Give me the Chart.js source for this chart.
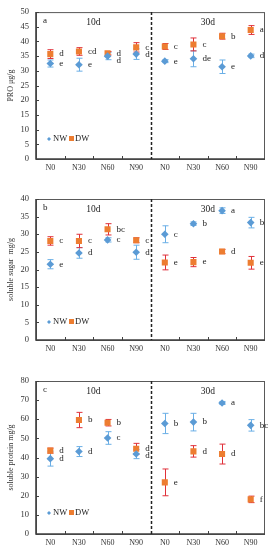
<!DOCTYPE html>
<html>
<head>
<meta charset="utf-8">
<script src="https://cdn.jsdelivr.net/npm/chart.js@4.4.1/dist/chart.umd.min.js"></script>
<style>
html,body{margin:0;padding:0;background:#fff;}
#wrap{position:relative;width:271px;height:550px;}
canvas{position:absolute;left:0;}
</style>
</head>
<body>
<div id="wrap">
<canvas id="ca" width="271" height="180" style="top:0px"></canvas>
<canvas id="cb" width="271" height="180" style="top:180px"></canvas>
<canvas id="cc" width="271" height="190" style="top:360px"></canvas>
</div>
<script>
// ---------- data ----------
const categories = ['N0','N30','N60','N90','N0','N30','N60','N90'];
const periods = ['10d','30d'];
const seriesNames = ['NW','DW'];

// Panel a: PRO (µg/g)
const proNW      = [32.5, 32.1, 35.0, 35.7, 33.3, 34.1, 31.4, 35.1];
const proNWErr   = [1.2, 2.2, 1.2, 1.8, 0.5, 2.7, 2.3, 0.6];
const proDW      = [35.7, 36.6, 36.0, 38.0, 38.3, 39.0, 41.8, 43.9];
const proDWErr   = [1.5, 1.3, 0.6, 1.6, 1.0, 2.2, 1.0, 1.5];
const proNWSig   = ['e','e','d','d','e','de','e','d'];
const proDWSig   = ['d','cd','d','c','c','c','b','a'];

// Panel b: soluble sugar (mg/g)
const sugarNW    = [21.5, 24.7, 28.4, 24.9, 30.0, 33.0, 36.7, 33.3];
const sugarNWErr = [1.3, 1.5, 0.6, 2.0, 2.4, 0.5, 0.8, 1.5];
const sugarDW    = [28.1, 28.1, 31.4, 28.3, 22.0, 22.1, 25.1, 21.9];
const sugarDWErr = [1.2, 1.9, 1.6, 0.7, 2.1, 1.3, 0.6, 1.8];
const sugarNWSig = ['e','d','c','d','c','b','a','b'];
const sugarDWSig = ['c','c','bc','c','e','e','d','e'];

// Panel c: soluble protein (mg/g)
const protNW     = [39.4, 43.1, 50.2, 41.8, 57.8, 58.5, 68.5, 56.8];
const protNWErr  = [3.9, 2.6, 3.3, 2.4, 5.3, 4.6, 0.8, 3.0];
const protDW     = [43.6, 59.6, 58.2, 44.6, 27.0, 43.2, 41.8, 18.1];
const protDWErr  = [1.3, 4.0, 1.7, 2.8, 7.0, 3.0, 5.2, 1.7];
const protNWSig  = ['d','d','c','d','b','b','a','bc'];
const protDWSig  = ['d','b','b','d','e','d','d','f'];

// y axis ranges / ticks
const proTicks   = {max: 50, step: 5};
const sugarTicks = {max: 40, step: 5};
const protTicks  = {max: 80, step: 10};

// ---------- styling ----------
const SERIF = "'Liberation Serif','Times New Roman',serif";
const BLUE = '#5B9BD5', BLUE_ERR = '#6AAFE6';
const ORANGE = '#ED7D31', RED_ERR = '#E0303A';
const AXIS = '#404040';

const decor = {
  id: 'decor',
  beforeDatasetsDraw(chart, args, o) {
    const ctx = chart.ctx, x = chart.scales.x, y = chart.scales.y;
    ctx.save();
    ctx.lineWidth = 1;
    chart.data.datasets.forEach(ds => {
      ctx.strokeStyle = ds.errColor;
      ds.data.forEach((v, i) => {
        const e = ds.err[i];
        const px = Math.round(x.getPixelForValue(i)) + 0.5;
        const y1 = y.getPixelForValue(v + e), y2 = y.getPixelForValue(v - e);
        ctx.beginPath();
        ctx.moveTo(px, y1); ctx.lineTo(px, y2);
        ctx.moveTo(px - 3, y1); ctx.lineTo(px + 3, y1);
        ctx.moveTo(px - 3, y2); ctx.lineTo(px + 3, y2);
        ctx.stroke();
      });
    });
    ctx.restore();
  },
  afterDraw(chart, args, o) {
    const ctx = chart.ctx, x = chart.scales.x, y = chart.scales.y;
    const a = chart.chartArea;
    ctx.save();
    // frame
    ctx.strokeStyle = '#595959';
    ctx.lineWidth = 1;
    ctx.strokeRect(a.left + 0.5, a.top + 0.5, a.right - a.left - 1, a.bottom - a.top);
    ctx.strokeStyle = AXIS;
    ctx.lineWidth = 1.6;
    ctx.beginPath();
    ctx.moveTo(a.left, a.top); ctx.lineTo(a.left, a.bottom); ctx.lineTo(a.right, a.bottom);
    ctx.stroke();
    // inward ticks
    ctx.lineWidth = 1;
    ctx.beginPath();
    y.ticks.forEach(t => {
      const py = Math.round(y.getPixelForValue(t.value)) + 0.5;
      ctx.moveTo(a.left, py); ctx.lineTo(a.left + 3, py);
    });
    for (let i = 0; i < categories.length - 1; i++) {
      if (i === 3) continue;
      const px = Math.round((x.getPixelForValue(i) + x.getPixelForValue(i + 1)) / 2) + 0.5;
      ctx.moveTo(px, a.bottom); ctx.lineTo(px, a.bottom - 3);
    }
    ctx.stroke();
    // divider
    const dx = Math.round((x.getPixelForValue(3) + x.getPixelForValue(4)) / 2) + 0.5;
    ctx.strokeStyle = '#222';
    ctx.lineWidth = 1.5;
    ctx.setLineDash([3, 2]);
    ctx.beginPath(); ctx.moveTo(dx, a.top); ctx.lineTo(dx, a.bottom); ctx.stroke();
    ctx.setLineDash([]);
    // texts
    ctx.fillStyle = '#222';
    ctx.font = '9px ' + SERIF;
    ctx.textBaseline = 'middle';
    ctx.textAlign = 'left';
    ctx.fillText(o.panel, a.left + 7, a.top + 9);
    ctx.textAlign = 'center';
    ctx.font = '9.5px ' + SERIF;
    ctx.fillText(periods[0], (x.getPixelForValue(1) + x.getPixelForValue(2)) / 2, a.top + 10);
    ctx.fillText(periods[1], (x.getPixelForValue(5) + x.getPixelForValue(6)) / 2, a.top + 10);
    // significance letters
    ctx.font = '9px ' + SERIF;
    ctx.textAlign = 'left';
    const dsN = chart.data.datasets[0], dsD = chart.data.datasets[1];
    for (let i = 0; i < categories.length; i++) {
      const px = x.getPixelForValue(i) + 9;
      let yn = y.getPixelForValue(dsN.data[i]);
      let yd = y.getPixelForValue(dsD.data[i]);
      if (Math.abs(yn - yd) < 7) {
        if (yd <= yn) yn = yd + 7; else yd = yn + 7;
      }
      ctx.fillText(dsN.sig[i], px, yn);
      ctx.fillText(dsD.sig[i], px, yd);
    }
    // legend
    const ly = a.bottom - o.legendOffset;
    ctx.fillStyle = BLUE;
    ctx.beginPath();
    ctx.moveTo(a.left + 13, ly - 2); ctx.lineTo(a.left + 15, ly); ctx.lineTo(a.left + 13, ly + 2); ctx.lineTo(a.left + 11, ly);
    ctx.closePath(); ctx.fill();
    ctx.fillStyle = ORANGE;
    ctx.fillRect(a.left + 33, ly - 3, 5, 5);
    ctx.fillStyle = '#222';
    ctx.font = '8.5px ' + SERIF;
    ctx.fillText(seriesNames[0], a.left + 17, ly);
    ctx.fillText(seriesNames[1], a.left + 39, ly);
    // y title
    ctx.save();
    ctx.translate(11, (a.top + a.bottom) / 2);
    ctx.rotate(-Math.PI / 2);
    ctx.textAlign = 'center';
    ctx.font = '8px ' + SERIF;
    ctx.fillStyle = '#333';
    ctx.fillText(o.ytitle, 0, 0);
    ctx.restore();
    ctx.restore();
  }
};

function makeChart(id, nw, nwErr, nwSig, dw, dwErr, dwSig, ticks, cfg) {
  return new Chart(document.getElementById(id), {
    type: 'line',
    data: {
      labels: categories,
      datasets: [
        {label: seriesNames[0], data: nw, err: nwErr, sig: nwSig, errColor: BLUE_ERR,
         showLine: false, pointStyle: 'rectRot', pointRadius: 3.8, backgroundColor: BLUE, borderColor: BLUE, borderWidth: 0},
        {label: seriesNames[1], data: dw, err: dwErr, sig: dwSig, errColor: RED_ERR,
         showLine: false, pointStyle: 'rect', pointRadius: 4.3, backgroundColor: ORANGE, borderColor: ORANGE, borderWidth: 0}
      ]
    },
    options: {
      responsive: false,
      animation: false,
      events: [],
      layout: {padding: {top: cfg.top, right: 6, left: 0, bottom: 0}},
      plugins: {legend: {display: false}, tooltip: {enabled: false},
        decor: {panel: cfg.panel, ytitle: cfg.ytitle, legendOffset: cfg.legendOffset}},
      scales: {
        x: {type: 'category', offset: true,
            grid: {display: false, drawTicks: false}, border: {display: false},
            ticks: {font: {family: SERIF, size: 8}, color: '#333', padding: 4, maxRotation: 0, autoSkip: false},
            afterFit: s => { s.height = cfg.xh; }},
        y: {min: 0, max: ticks.max,
            grid: {display: false, drawTicks: false}, border: {display: false},
            ticks: {stepSize: ticks.step, font: {family: SERIF, size: 8.5}, color: '#333', padding: 7},
            afterFit: s => { s.width = 36; }}
      }
    },
    plugins: [decor]
  });
}

makeChart('ca', proNW, proNWErr, proNWSig, proDW, proDWErr, proDWSig, proTicks,
  {top: 7, xh: 21, panel: 'a', ytitle: 'PRO μg/g', legendOffset: 20});
makeChart('cb', sugarNW, sugarNWErr, sugarNWSig, sugarDW, sugarDWErr, sugarDWSig, sugarTicks,
  {top: 19, xh: 20, panel: 'b', ytitle: 'soluble sugar  mg/g', legendOffset: 18});
makeChart('cc', protNW, protNWErr, protNWSig, protDW, protDWErr, protDWSig, protTicks,
  {top: 21, xh: 16, panel: 'c', ytitle: 'soluble protein mg/g', legendOffset: 21});
</script>
</body>
</html>
